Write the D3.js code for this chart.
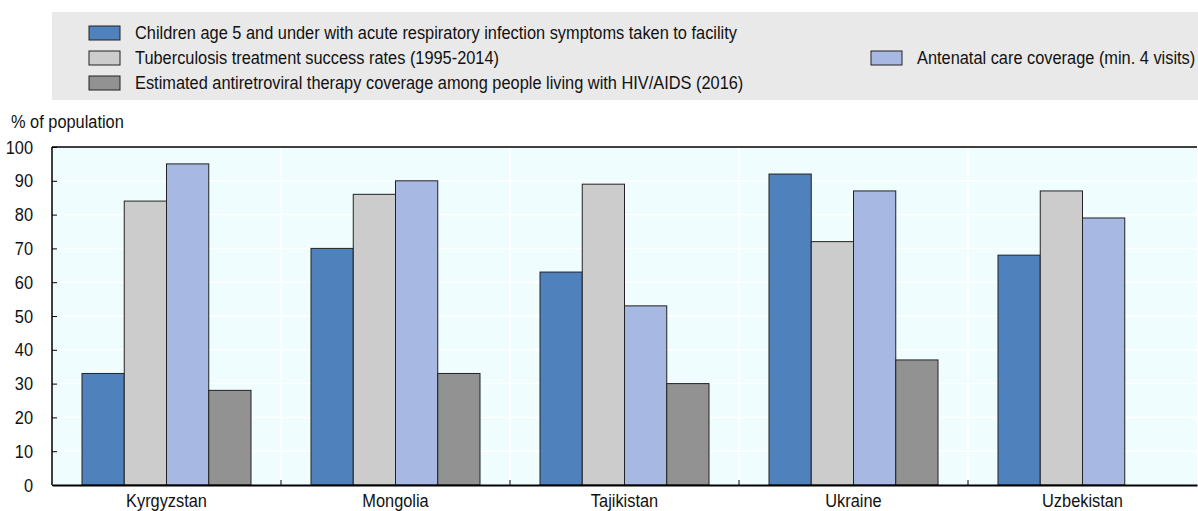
<!DOCTYPE html>
<html>
<head>
<meta charset="utf-8">
<script src="https://cdn.jsdelivr.net/npm/d3@7"></script>
<style>
  body { margin: 0; background: #fff; }
  svg { display: block; font-family: "Liberation Sans", Arial, sans-serif; }
</style>
</head>
<body>
<svg id="chart" width="1198" height="511"></svg>
<script>
// data
const countries = ["Kyrgyzstan", "Mongolia", "Tajikistan", "Ukraine", "Uzbekistan"];
const seriesNames = [
    "Children age 5 and under with acute respiratory infection symptoms taken to facility",
    "Tuberculosis treatment success rates (1995-2014)",
    "Antenatal care coverage (min. 4 visits)",
    "Estimated antiretroviral therapy coverage among people living with HIV/AIDS (2016)"
];
const respiratory = [33, 70, 63, 92, 68];
const tuberculosis = [84, 86, 89, 72, 87];
const antenatal = [95, 90, 53, 87, 79];
const antiretroviral = [28, 33, 30, 37, null];
const yTicks = [0, 10, 20, 30, 40, 50, 60, 70, 80, 90, 100];

const colors = ["#4f81bd", "#cccccc", "#a7b9e3", "#929292"];
const allSeries = [respiratory, tuberculosis, antenatal, antiretroviral];

const margin = {top: 147, right: 1, left: 52, bottom: 26};
const svg = d3.select("#chart");
const width = +svg.attr("width");
const height = +svg.attr("height");

// slightly condensed text, like the original
const FS = 17.5, SX = 0.935;
function label(sel, x, y) {
    sel.attr("x", 0).attr("y", 0)
        .attr("transform", `translate(${x},${y}) scale(${SX},1)`)
        .attr("font-size", FS)
        .attr("fill", "#111");
    return sel;
}

// legend
const legend = svg.append("g");
legend.append("rect")
    .attr("x", 52).attr("y", 12)
    .attr("width", 1146).attr("height", 88)
    .attr("fill", "#e9e9e9");

// three on the left column, antenatal on the right
const legendPos = [
    {x: 89, y: 33}, {x: 89, y: 58}, {x: 871, y: 58}, {x: 89, y: 83}
];
seriesNames.forEach((name, i) => {
    const g = legend.append("g").attr("transform", `translate(${legendPos[i].x},${legendPos[i].y})`);
    g.append("rect")
        .attr("x", 0).attr("y", -7)
        .attr("width", 31).attr("height", 14)
        .attr("fill", colors[i])
        .attr("stroke", "#222").attr("stroke-width", 1);
    label(g.append("text"), 46, 6).text(name);
});

// axis title
label(svg.append("text"), 11, 128).text("% of population");

const x0 = d3.scaleBand()
    .domain(countries)
    .range([margin.left, width - margin.right])
    .padding(0);

const x1 = d3.scaleBand()
    .domain(d3.range(4))
    .range([0, x0.bandwidth()])
    .paddingInner(0)
    .paddingOuter(0.71);

const y = d3.scaleLinear()
    .domain([0, 100])
    .range([height - margin.bottom, margin.top]);

// plot background
svg.append("rect")
    .attr("x", margin.left).attr("y", margin.top)
    .attr("width", width - margin.right - margin.left)
    .attr("height", y(0) - margin.top)
    .attr("fill", "#effdfe");

// gridlines
svg.append("g")
    .selectAll("line")
    .data(yTicks.slice(1, -1))
    .join("line")
    .attr("x1", margin.left).attr("x2", width - margin.right)
    .attr("y1", d => y(d)).attr("y2", d => y(d))
    .attr("stroke", "#fff").attr("stroke-width", 1.5);

svg.append("g")
    .selectAll("line")
    .data(countries.slice(1))
    .join("line")
    .attr("x1", d => x0(d)).attr("x2", d => x0(d))
    .attr("y1", margin.top).attr("y2", y(0))
    .attr("stroke", "#fff").attr("stroke-width", 1.5);

// bars
const rows = [];
countries.forEach((c, ci) => {
    allSeries.forEach((s, si) => {
        if (s[ci] != null) rows.push({country: c, s: si, v: s[ci]});
    });
});

svg.append("g")
    .selectAll("rect")
    .data(rows)
    .join("rect")
    .attr("x", d => x0(d.country) + x1(d.s))
    .attr("y", d => y(d.v))
    .attr("width", x1.bandwidth())
    .attr("height", d => y(0) - y(d.v))
    .attr("fill", d => colors[d.s])
    .attr("stroke", "#222")
    .attr("stroke-width", 1);

// y axis
const yAxis = svg.append("g")
    .attr("transform", `translate(${margin.left},0)`)
    .call(d3.axisRight(y).tickValues(yTicks).tickSize(5).tickFormat(d3.format("d")));
yAxis.select(".domain").remove();
yAxis.selectAll("line").attr("stroke", "#000");
yAxis.selectAll("text").each(function() {
    label(d3.select(this), -19, 6).attr("dy", null).attr("text-anchor", "end");
});

svg.append("line")
    .attr("x1", margin.left).attr("x2", margin.left)
    .attr("y1", margin.top).attr("y2", y(0))
    .attr("stroke", "#000").attr("stroke-width", 1.5);

svg.append("line")
    .attr("x1", margin.left).attr("x2", width - margin.right)
    .attr("y1", margin.top).attr("y2", margin.top)
    .attr("stroke", "#000").attr("stroke-width", 1.5);

// x axis
const xAxis = svg.append("g")
    .attr("transform", `translate(0,${y(0)})`)
    .call(d3.axisBottom(x0).tickSize(0));
xAxis.select(".domain")
    .attr("stroke", "#000").attr("stroke-width", 2);
xAxis.selectAll("text").each(function() {
    label(d3.select(this), 0, 22).attr("dy", null).attr("text-anchor", "middle");
});

// small category separator ticks
svg.append("g")
    .selectAll("line")
    .data(countries.slice(1))
    .join("line")
    .attr("x1", d => x0(d)).attr("x2", d => x0(d))
    .attr("y1", y(0)).attr("y2", y(0) - 5)
    .attr("stroke", "#000").attr("stroke-width", 1);
</script>
</body>
</html>
